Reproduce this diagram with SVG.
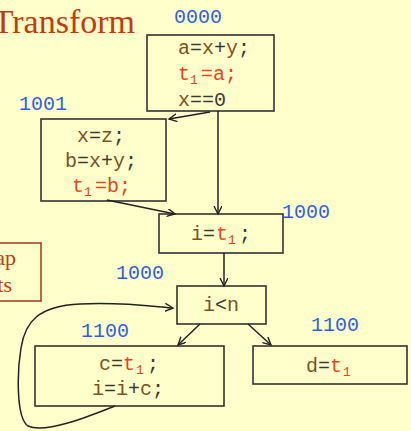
<svg xmlns="http://www.w3.org/2000/svg" width="411" height="431" viewBox="0 0 411 431">
<defs>
<marker id="arr" markerWidth="10" markerHeight="10" refX="8" refY="4" orient="auto" markerUnits="userSpaceOnUse">
<path d="M0,0 L8,4 L0,8" fill="none" stroke="#222" stroke-width="1.4"/>
</marker>
<style>
.box{fill:#FFFFCC;stroke:#333;stroke-width:1.6}
.code{font-family:"Liberation Mono","Courier New",monospace;font-size:20px;fill:#7B5321}
.op{fill:#3a3a30}
.red{fill:#E5461A}
.sub{font-size:13px}
.lbl{font-family:"Liberation Mono","Courier New",monospace;font-size:20px;fill:#2F5FE0}
.serif{font-family:"Liberation Serif","Times New Roman",serif;fill:#C8380A}
.edge{fill:none;stroke:#222;stroke-width:1.5}
</style>
</defs>
<rect width="411" height="431" fill="#FFFFCC"/>
<text class="serif" x="135" y="33" font-size="34" text-anchor="end">Transform</text>
<g id="note">
<rect x="-10" y="243" width="51" height="58" fill="none" stroke="#A0381A" stroke-width="1.5"/>
<text class="serif" x="16" y="265" font-size="22" text-anchor="end">ap</text>
<text class="serif" x="12" y="292" font-size="22" text-anchor="end">ts</text>
</g>
<g id="labels">
<text class="lbl" x="174" y="23">0000</text>
<text class="lbl" x="19" y="110">1001</text>
<text class="lbl" x="282" y="218">1000</text>
<text class="lbl" x="116" y="279">1000</text>
<text class="lbl" x="81" y="337">1100</text>
<text class="lbl" x="311" y="331">1100</text>
</g>
<g id="n0000">
<rect class="box" x="147" y="35" width="127" height="76"/>
<text class="code" x="178" y="54">a<tspan class="op">=</tspan>x<tspan class="op">+</tspan>y<tspan class="op">;</tspan></text>
<text class="code red" y="80"><tspan x="178">t</tspan><tspan class="sub" x="190" dy="4">1</tspan><tspan x="201" dy="-4">=a;</tspan></text>
<text class="code" x="178" y="106">x<tspan class="op">==0</tspan></text>
</g>
<g id="n1001">
<rect class="box" x="41" y="119" width="125" height="82"/>
<text class="code" x="77" y="142">x<tspan class="op">=</tspan>z<tspan class="op">;</tspan></text>
<text class="code" x="65" y="167">b<tspan class="op">=</tspan>x<tspan class="op">+</tspan>y<tspan class="op">;</tspan></text>
<text class="code red" y="192"><tspan x="72">t</tspan><tspan class="sub" x="84" dy="4">1</tspan><tspan x="95" dy="-4">=b;</tspan></text>
</g>
<g id="n1000a">
<rect class="box" x="159" y="214" width="124" height="39"/>
<text class="code" y="240"><tspan x="191">i</tspan><tspan class="op">=</tspan><tspan class="red" x="216">t</tspan><tspan class="red sub" x="228" dy="4">1</tspan><tspan class="op" x="239" dy="-4">;</tspan></text>
</g>
<g id="n1000b">
<rect class="box" x="177" y="286" width="89" height="38"/>
<text class="code" x="203" y="311">i<tspan class="op">&lt;</tspan>n</text>
</g>
<g id="n1100a">
<rect class="box" x="35" y="346" width="189" height="60"/>
<text class="code" y="370"><tspan x="99">c</tspan><tspan class="op">=</tspan><tspan class="red" x="123">t</tspan><tspan class="red sub" x="136" dy="4">1</tspan><tspan class="op" x="147" dy="-4">;</tspan></text>
<text class="code" x="92" y="395">i<tspan class="op">=</tspan>i<tspan class="op">+</tspan>c<tspan class="op">;</tspan></text>
</g>
<g id="n1100b">
<rect class="box" x="253" y="346" width="154" height="38"/>
<text class="code" y="372"><tspan x="306">d</tspan><tspan class="op">=</tspan><tspan class="red" x="330">t</tspan><tspan class="red sub" x="343" dy="4">1</tspan></text>
</g>
<g id="edges">
<path class="edge" d="M210,112 L169,119" marker-end="url(#arr)"/>
<path class="edge" d="M218,111 L218,214" marker-end="url(#arr)"/>
<path class="edge" d="M107,200 L175,214" marker-end="url(#arr)"/>
<path class="edge" d="M224,253 L224,286" marker-end="url(#arr)"/>
<path class="edge" d="M200,324 L178,345" marker-end="url(#arr)"/>
<path class="edge" d="M248,324 L271,345" marker-end="url(#arr)"/>
<path class="edge" d="M115,406 C90,416 45,434 28,426 C16,418 17,372 21,348 C25,322 38,306 80,304 C120,302 150,306 173,308" marker-end="url(#arr)"/>
</g>
</svg>
